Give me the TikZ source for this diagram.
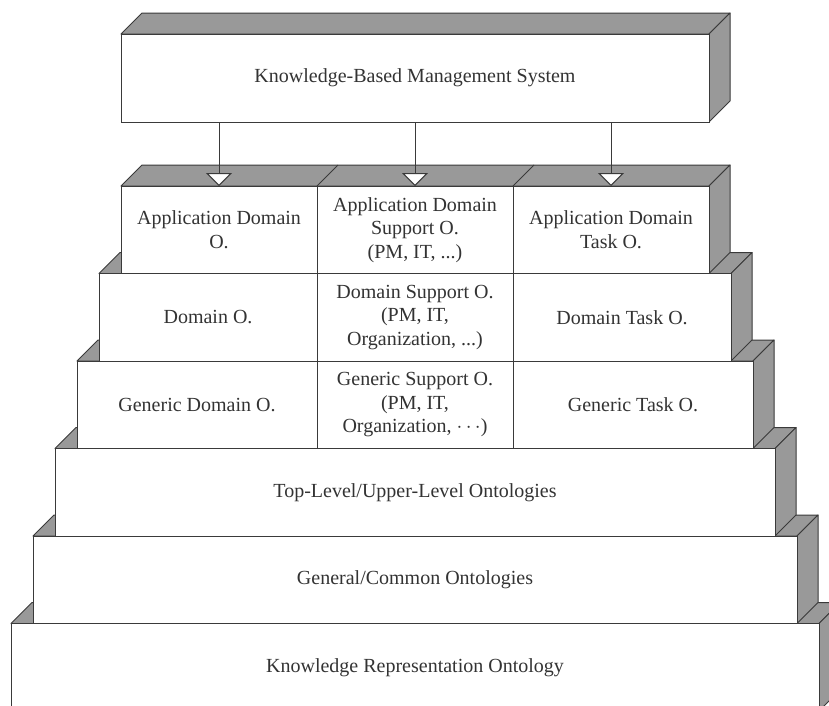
\documentclass[tikz,border=0pt]{standalone}
\usepackage{fontspec}
\setmainfont{Liberation Serif}
\usetikzlibrary{arrows.meta}
\definecolor{sidegray}{HTML}{999999}
\definecolor{edge}{HTML}{3A3A3A}
\definecolor{txt}{HTML}{333333}
\tikzset{
  face/.style={draw=edge, line width=1pt, fill=sidegray, line join=round},
  slant/.style={draw=edge, line width=1pt},
  cell/.style={draw=edge, line width=1pt, fill=white, inner sep=0pt, outer sep=0pt,
    anchor=north west, align=center, text=txt, font=\fontsize{20}{23.5}\selectfont},
  arr/.style={draw=edge, line width=1pt, -{Triangle[width=26pt,length=13pt,fill=white]}}
}
\newcommand\slabsides[4]{%
  \draw[face] (#1,#2) -- ++(21,-21) -- ++({#3-#1},0) -- (#3,#2) -- cycle;
  \draw[face] (#3,#2) -- ++(21,-21) -- ++(0,{#4-#2}) -- (#3,#4) -- cycle;
}
\begin{document}
\begin{tikzpicture}[x=1pt,y=-1pt]
\useasboundingbox (0,0) rectangle (829,705);
\clip (0,0) rectangle (829,705);
% Knowledge Representation Ontology
\slabsides{11}{623.5}{819}{711}
\node[cell, minimum width=808pt, minimum height=87.5pt] (kr) at (11,623.5) {Knowledge Representation Ontology};
% General/Common
\slabsides{33}{536}{797}{623.5}
\node[cell, minimum width=764pt, minimum height=87.5pt] (gc) at (33,536) {General/Common Ontologies};
% Top-Level
\slabsides{55}{448.5}{775}{536}
\node[cell, minimum width=720pt, minimum height=87.5pt] (tl) at (55,448.5) {Top-Level/Upper-Level Ontologies};
% Generic row
\slabsides{77}{361}{753}{448.5}
\node[cell, minimum width=240pt, minimum height=87.5pt] (g1) at (77,361) {Generic Domain O.};
\node[cell, minimum width=196pt, minimum height=87.5pt] (g2) at (317,361) {Generic Support O.\\(PM, IT,\\Organization, $\cdots$)};
\node[cell, minimum width=240pt, minimum height=87.5pt] (g3) at (513,361) {Generic Task O.};
% Domain row
\slabsides{99}{273.5}{731}{361}
\node[cell, minimum width=218pt, minimum height=87.5pt] (d1) at (99,273.5) {Domain O.};
\node[cell, minimum width=196pt, minimum height=87.5pt] (d2) at (317,273.5) {Domain Support O.\\(PM, IT,\\Organization, ...)};
\node[cell, minimum width=218pt, minimum height=87.5pt] (d3) at (513,273.5) {Domain Task O.};
% Application row
\slabsides{121}{186}{709}{273.5}
\draw[slant] (317,186) -- ++(21,-21);
\draw[slant] (513,186) -- ++(21,-21);
\node[cell, minimum width=196pt, minimum height=87.5pt] (a1) at (121,186) {Application Domain\\O.};
\node[cell, minimum width=196pt, minimum height=87.5pt] (a2) at (317,186) {Application Domain\\Support O.\\(PM, IT, ...)};
\node[cell, minimum width=196pt, minimum height=87.5pt] (a3) at (513,186) {Application Domain\\Task O.};
% KBMS
\slabsides{121}{34}{709}{122}
\node[cell, minimum width=588pt, minimum height=88pt] (kbms) at (121,34) {Knowledge-Based Management System};
% arrows
\draw[arr] (kbms.south -| a1.north) -- (a1.north);
\draw[arr] (kbms.south -| a2.north) -- (a2.north);
\draw[arr] (kbms.south -| a3.north) -- (a3.north);
\end{tikzpicture}
\end{document}
